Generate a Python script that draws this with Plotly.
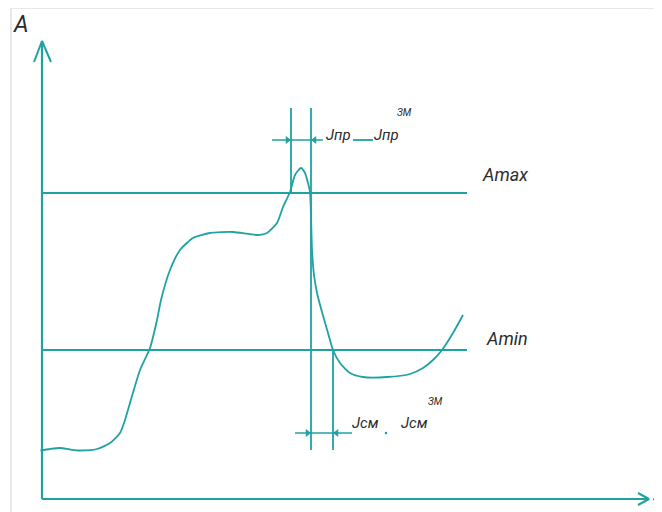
import plotly.graph_objects as go

# ---- data (schematic units: origin at the axes corner) ----
curve_x = [-1.5, 8, 18, 28, 38, 55, 68, 78, 83, 88, 98, 108, 115, 119, 128, 138, 151, 168, 191, 215, 225,
           235, 241, 248, 253, 259, 263, 266, 268, 269, 270, 272, 275, 280, 286, 291, 298, 308, 321, 345,
           368, 381, 391, 400, 411, 421]
curve_y = [48.5, 50, 51, 49.5, 48.5, 50, 56, 66, 79, 96, 129, 151, 179, 199, 229, 249, 261, 266, 267, 264, 266,
           276, 292, 307, 324, 331, 326, 316, 307, 284, 249, 224, 206, 187, 166, 149, 136, 126, 122, 122,
           125, 131, 139, 149, 166, 184]

A_max = 306
A_min = 149
level_x_end = 425

J_np = 249
J_np_zm = 269
J_cm = 269
J_cm_zm = 291

dim_top_y = 359
dim_top_x = [230, 281]
dim_top_dash = [311, 331]
dim_bot_y = 66
dim_bot_x = [253, 310]
dim_bot_dot = 344

ext_top = 391
ext_bottom = 49

x_axis_end = 607
y_axis_end = 458

labels_main = ["A", "Amax", "Amin", "J"]
label_j_np = "Jпр"
label_j_cm = "Jсм"
label_zm = "зм"

TEAL = "#1fa2a2"
TXT = "#2b2b2b"
FONT = "Liberation Sans Narrow, Roboto, Liberation Sans, sans-serif"

fig = go.Figure()

def seg(xs, ys, w=2.0):
    fig.add_trace(go.Scatter(x=xs, y=ys, mode="lines", line=dict(color=TEAL, width=w),
                             hoverinfo="skip", showlegend=False))

# axes with open arrowheads
seg([0, 0], [0, y_axis_end], 2.2)
seg([-8, 0, 9], [y_axis_end - 21, y_axis_end, y_axis_end - 21], 2.0)
seg([0, x_axis_end], [0, 0], 2.2)
seg([x_axis_end - 11, x_axis_end, x_axis_end - 11], [6, 0, -6], 2.0)

# level lines
seg([0, level_x_end], [A_max, A_max], 2.2)
seg([0, level_x_end], [A_min, A_min], 2.2)

# extension lines
seg([J_np, J_np], [ext_top, A_max], 1.8)
seg([J_np_zm, J_np_zm], [ext_top, ext_bottom], 1.8)
seg([J_cm_zm, J_cm_zm], [A_min, ext_bottom], 1.8)

# dimension lines
seg(dim_top_x, [dim_top_y, dim_top_y], 1.6)
seg(dim_top_dash, [dim_top_y, dim_top_y], 1.8)
seg(dim_bot_x, [dim_bot_y, dim_bot_y], 1.6)

# arrowheads on dimension lines
fig.add_trace(go.Scatter(
    x=[J_np - 3.5, J_np_zm + 3.5, J_cm - 3.5, J_cm_zm + 3.5],
    y=[dim_top_y, dim_top_y, dim_bot_y, dim_bot_y],
    mode="markers",
    marker=dict(symbol=["triangle-right", "triangle-left", "triangle-right", "triangle-left"],
                size=7, color=TEAL, line=dict(width=0)),
    hoverinfo="skip", showlegend=False))
fig.add_trace(go.Scatter(x=[dim_bot_dot], y=[dim_bot_y], mode="markers",
                         marker=dict(size=2.5, color=TEAL), hoverinfo="skip", showlegend=False))

# curve
fig.add_trace(go.Scatter(x=curve_x, y=curve_y, mode="lines",
                         line=dict(color=TEAL, width=1.8, shape="spline", smoothing=0.6),
                         hoverinfo="skip", showlegend=False))

def label(txt, x, y, size, xanchor="center"):
    fig.add_annotation(x=x, y=y, text=txt, showarrow=False, xref="x", yref="y", xanchor=xanchor,
                       font=dict(family=FONT, size=size, color=TXT, style="italic"))

label(labels_main[0], -21, 475, 23)
label(labels_main[1], 463, 325, 18)
label(labels_main[2], 465, 161, 18)
label(labels_main[3], 620, 3, 13, xanchor="right")
label(label_j_np, 296, 364, 15)
label(label_j_np, 344, 364, 15)
label(label_zm.upper(), 362, 387, 10)
label(label_j_cm, 323, 76, 15)
label(label_j_cm, 372, 76, 15)
label(label_zm.upper(), 393, 98, 10)

# light frame of the original scan
fig.add_shape(type="line", xref="paper", yref="paper", x0=3 / 654, x1=1, y0=1, y1=1,
              line=dict(color="#e8e8e8", width=2))
fig.add_shape(type="line", xref="paper", yref="paper", x0=3 / 654, x1=3 / 654, y0=0, y1=1,
              line=dict(color="#e8e8e8", width=2))

# page body keeps its default 8px margin, so the figure is 654x504 and the
# ranges are set so that the axes corner lands where it is in the reference
fig.update_xaxes(range=[-34, 620], visible=False)
fig.update_yaxes(range=[-13, 491], visible=False)
fig.update_layout(width=654, height=504, margin=dict(l=0, r=0, t=0, b=0),
                  plot_bgcolor="white", paper_bgcolor="white")

fig.write_html("out.html")
